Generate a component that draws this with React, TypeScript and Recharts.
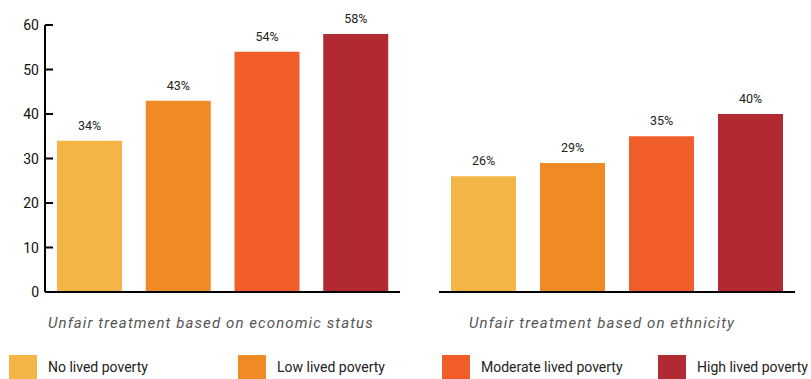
import React from 'react';
import { BarChart, Bar, XAxis, YAxis, Cell, LabelList } from 'recharts';

// ── Data ───────────────────────────────────────────────────

const groups = ['No lived poverty', 'Low lived poverty', 'Moderate lived poverty', 'High lived poverty'];
const colors = ['#F4B547', '#F08A24', '#F15D29', '#B12A31'];
const economicValues = [34, 43, 54, 58];
const ethnicityValues = [26, 29, 35, 40];
const panelTitles = ['Unfair treatment based on economic status', 'Unfair treatment based on ethnicity'];
const yTicks = [0, 10, 20, 30, 40, 50, 60];

const toRows = (values: number[]) => groups.map((g, i) => ({ group: g, value: values[i] }));

const FONT = 'Roboto, "Noto Sans", sans-serif';

// ── Ticks ──────────────────────────────────────────────────

function InwardTick(props: any) {
  const { x, y, payload } = props;
  return (
    <g>
      <line x1={x + 6} x2={x + 14} y1={y} y2={y} stroke="#000" strokeWidth={2} />
      <text x={x} y={y} dy={5} textAnchor="end" fill="#111" fontSize={14} fontFamily={FONT}>
        {payload.value}
      </text>
    </g>
  );
}

// ── Panel ──────────────────────────────────────────────────

function Panel({ values, showAxis, width, marginLeft }: { values: number[]; showAxis: boolean; width: number; marginLeft: number }) {
  return (
    <BarChart
      width={width}
      height={300}
      data={toRows(values)}
      margin={{ top: 25, right: 10, bottom: 7, left: marginLeft }}
    >
      <XAxis
        dataKey="group"
        tick={false}
        tickLine={false}
        height={1}
        axisLine={{ stroke: '#000', strokeWidth: 2 }}
      />
      <YAxis
        hide={!showAxis}
        width={45}
        domain={[0, 60]}
        ticks={yTicks}
        interval={0}
        tickSize={0}
        tickMargin={6}
        tickLine={false}
        tick={<InwardTick />}
        axisLine={{ stroke: '#000', strokeWidth: 2 }}
      />
      <Bar dataKey="value" barSize={65} isAnimationActive={false}>
        {values.map((_, i) => (
          <Cell key={i} fill={colors[i]} />
        ))}
        <LabelList
          dataKey="value"
          position="top"
          offset={11}
          formatter={(v: any) => `${v}%`}
          style={{ fill: '#222', fontSize: 12.5, fontFamily: FONT }}
        />
      </Bar>
    </BarChart>
  );
}

// ── App ────────────────────────────────────────────────────

const legendX = [9, 238, 442, 658];
const titleStyle: React.CSSProperties = {
  position: 'absolute',
  top: 314,
  fontSize: 15,
  fontStyle: 'italic',
  color: '#555',
  letterSpacing: 1.1,
  whiteSpace: 'nowrap',
};

export default function App() {
  return (
    <div style={{ position: 'absolute', left: 0, top: 0, width: 811, height: 379, background: '#fff', overflow: 'hidden', fontFamily: FONT }}>
      <div style={{ position: 'absolute', left: 0, top: 0 }}>
        <Panel values={economicValues} showAxis width={410} marginLeft={0} />
      </div>
      <div style={{ position: 'absolute', left: 400, top: 0 }}>
        <Panel values={ethnicityValues} showAxis={false} width={405} marginLeft={39} />
      </div>

      <div style={{ ...titleStyle, left: 48 }}>{panelTitles[0]}</div>
      <div style={{ ...titleStyle, left: 469 }}>{panelTitles[1]}</div>

      {groups.map((g, i) => (
        <div key={g} style={{ position: 'absolute', left: legendX[i], top: 355, display: 'flex', alignItems: 'center' }}>
          <div style={{ width: 28, height: 24, background: colors[i] }} />
          <span style={{ marginLeft: 11, fontSize: 14, color: '#222', whiteSpace: 'nowrap' }}>{g}</span>
        </div>
      ))}
    </div>
  );
}
